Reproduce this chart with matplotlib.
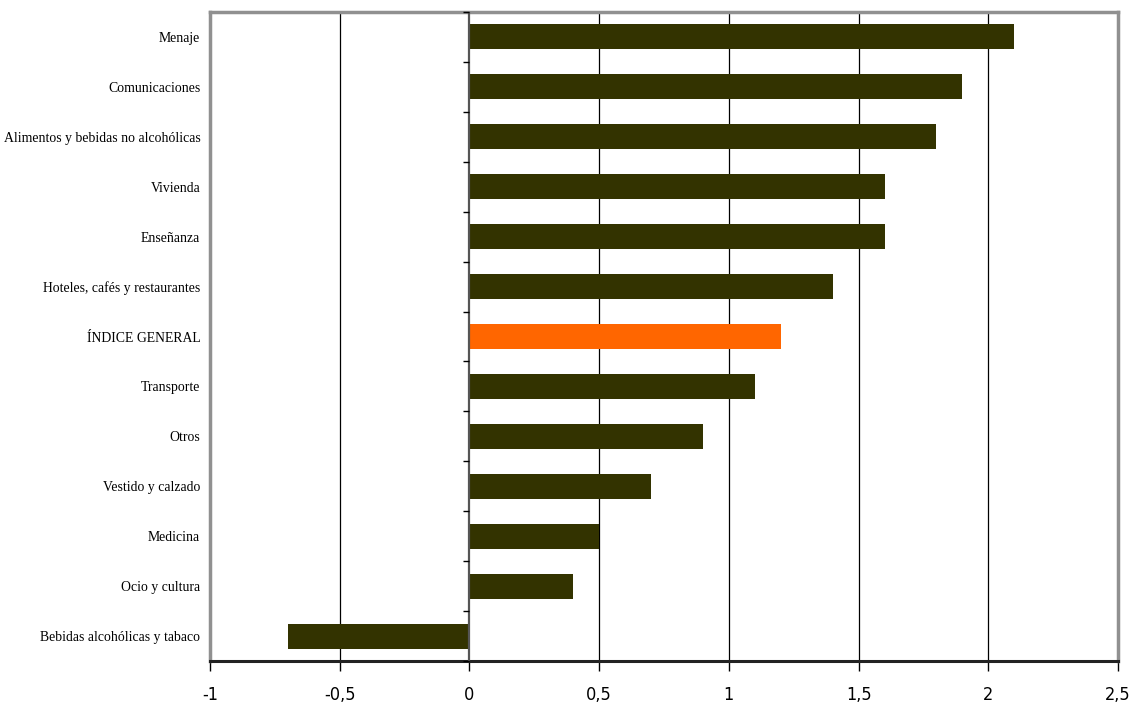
import matplotlib
matplotlib.use("Agg")
import matplotlib.pyplot as plt
import numpy as np

categories = ["Menaje", "Comunicaciones", "Alimentos y bebidas no alcohólicas", "Vivienda",
              "Enseñanza", "Hoteles, cafés y restaurantes", "ÍNDICE GENERAL", "Transporte",
              "Otros", "Vestido y calzado", "Medicina", "Ocio y cultura",
              "Bebidas alcohólicas y tabaco"]
values = [2.1, 1.9, 1.8, 1.6, 1.6, 1.4, 1.2, 1.1, 0.9, 0.7, 0.5, 0.4, -0.7]
highlight = "ÍNDICE GENERAL"
xticks = [-1, -0.5, 0, 0.5, 1, 1.5, 2, 2.5]
xtick_labels = ["-1", "-0,5", "0", "0,5", "1", "1,5", "2", "2,5"]

fig = plt.figure(figsize=(11.31, 7.08), dpi=100)
ax = fig.add_axes([210/1131, 1-661/708, (1118-210)/1131, (661-12)/708])

n = len(categories)
ypos = np.arange(n)[::-1]
colors = ["#FF6600" if c == highlight else "#333300" for c in categories]
ax.barh(ypos, values, height=0.5, color=colors, zorder=3)

ax.set_xlim(-1, 2.5)
ax.set_ylim(-0.5, n - 0.5)

for x in xticks:
    if x not in (-1, 0, 2.5):
        ax.axvline(x, color="black", lw=0.9, zorder=1)
ax.axvline(0, color="#555555", lw=1.6, zorder=4)

# category boundary ticks on the zero axis
bounds = np.arange(n + 1) - 0.5
ax.plot(np.zeros_like(bounds), bounds, linestyle="none", marker=0, markersize=4,
        markeredgewidth=1.0, color="black", zorder=5, clip_on=False)

ax.set_yticks(ypos)
ax.set_yticklabels(categories, fontfamily=["Liberation Serif", "DejaVu Serif"], fontsize=9.9)
ax.tick_params(axis="y", length=0, pad=7)

ax.set_xticks(xticks)
ax.set_xticklabels(xtick_labels, fontfamily=["DejaVu Sans"], fontstretch="condensed", fontsize=13)
ax.tick_params(axis="x", direction="out", length=7, width=1, pad=11)

for s in ["left", "top", "right"]:
    ax.spines[s].set_color("#909090")
    ax.spines[s].set_linewidth(2.5)
ax.spines["bottom"].set_color("#222222")
ax.spines["bottom"].set_linewidth(2.2)

fig.savefig("out.png", dpi=100, facecolor="white")
